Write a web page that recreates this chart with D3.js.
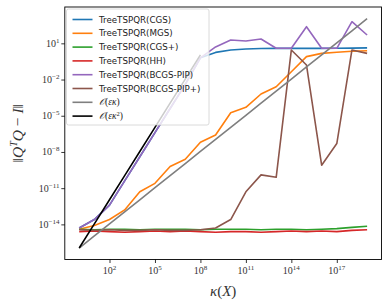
<!DOCTYPE html>
<html>
<head>
<meta charset="utf-8">
<script src="https://cdn.jsdelivr.net/npm/d3@7"></script>
<style>
  html, body { margin: 0; padding: 0; background: #fff; }
  svg { display: block; }
</style>
</head>
<body>
<svg id="chart" width="390" height="306"></svg>
<script>
// condition numbers, kappa = 10^e
const kappaExp = [0, 1, 2, 3, 4, 5, 6, 7, 8, 9, 10, 11, 12, 13, 14, 15, 16, 17, 18, 19];

// log10 of ||Q^T Q - I||
const cgs = [-14.3, -13.6, -12.4, -10.4, -8.4, -6.4, -4.4, -2.4, -0.2, 0.25, 0.45, 0.53, 0.57, 0.58, 0.58, 0.58, 0.58, 0.59, 0.6, 0.62];
const mgs = [-14.4, -14.1, -13.6, -12.8, -11.3, -10.6, -9.2, -8.6, -7.2, -6.6, -4.75, -4.3, -3.2, -2.6, -1.35, -0.1, 0.17, 0.26, 0.34, 0.39];
const cgsPlus = [-14.4, -14.45, -14.4, -14.4, -14.45, -14.4, -14.4, -14.4, -14.45, -14.4, -14.4, -14.4, -14.45, -14.4, -14.4, -14.45, -14.4, -14.35, -14.25, -14.15];
const hh = [-14.6, -14.55, -14.6, -14.65, -14.6, -14.55, -14.6, -14.55, -14.6, -14.65, -14.6, -14.6, -14.65, -14.6, -14.55, -14.6, -14.55, -14.6, -14.5, -14.45];
const bcgsPip = [-14.3, -13.6, -12.4, -10.4, -8.4, -6.4, -4.4, -2.4, -0.2, 0.7, 1.28, 1.19, 1.36, 0.59, 0.59, 2.38, 0.59, 0.59, 2.79, 1.69];
const bcgsPipPlus = [-14.45, -14.5, -14.45, -14.5, -14.5, -14.45, -14.5, -14.5, -14.45, -14.3, -13.6, -11.3, -9.9, -10.1, 0.45, -0.8, -9.1, -7.3, 0.45, 0.17];
const orderEpsK = [-15.96, -14.96, -13.96, -12.96, -11.96, -10.96, -9.96, -8.96, -7.96, -6.96, -5.96, -4.96, -3.96, -2.96, -1.96, -0.96, 0.04, 1.04, 2.04, 3.04];
const orderEpsK2 = [-15.96, -13.96, -11.96, -9.96, -7.96, -5.96, -3.96, -1.96, 0.04];

const xTickExp = [2, 5, 8, 11, 14, 17];
const yTickExp = [1, -2, -5, -8, -11, -14];

const seriesList = [
  { name: 'TreeTSPQR(CGS)', vals: cgs, color: '#1f77b4' },
  { name: 'TreeTSPQR(MGS)', vals: mgs, color: '#ff7f0e' },
  { name: 'TreeTSPQR(CGS+)', vals: cgsPlus, color: '#2ca02c' },
  { name: 'TreeTSPQR(HH)', vals: hh, color: '#d62728' },
  { name: 'TreeTSPQR(BCGS-PIP)', vals: bcgsPip, color: '#9467bd' },
  { name: 'TreeTSPQR(BCGS-PIP+)', vals: bcgsPipPlus, color: '#8c564b' },
  { name: 'epsK', vals: orderEpsK, color: '#7f7f7f' },
  { name: 'epsK2', vals: orderEpsK2, color: '#000000' }
];

const svg = d3.select('#chart');
const plotL = 64.8, plotR = 381.5, plotT = 7, plotB = 259.5;

const x = d3.scaleLog().domain([Math.pow(10, -0.95), Math.pow(10, 19.95)]).range([plotL, plotR]);
const y = d3.scaleLog().domain([Math.pow(10, -16.91), Math.pow(10, 4.01)]).range([plotB, plotT]);

svg.append('clipPath').attr('id', 'clip')
  .append('rect').attr('x', plotL).attr('y', plotT).attr('width', plotR - plotL).attr('height', plotB - plotT);

const line = d3.line()
  .x((d, i) => x(Math.pow(10, kappaExp[i])))
  .y(d => y(Math.pow(10, d)));

const plot = svg.append('g').attr('clip-path', 'url(#clip)');
seriesList.forEach(s => {
  plot.append('path')
    .attr('d', line(s.vals))
    .attr('fill', 'none')
    .attr('stroke', s.color)
    .attr('stroke-width', 1.6)
    .attr('stroke-linejoin', 'round');
});

// axes
const xAxis = d3.axisBottom(x).tickValues(xTickExp.map(e => Math.pow(10, e))).tickSize(3.5).tickFormat('');
const yAxis = d3.axisLeft(y).tickValues(yTickExp.map(e => Math.pow(10, e))).tickSize(3.5).tickFormat('');

const gx = svg.append('g').attr('transform', `translate(0,${plotB})`).call(xAxis);
const gy = svg.append('g').attr('transform', `translate(${plotL},0)`).call(yAxis);
gx.select('.domain').remove();
gy.select('.domain').remove();
svg.selectAll('.tick line').attr('stroke', '#000').attr('stroke-width', 0.8);

const tickFont = '"Liberation Serif", "DejaVu Serif", serif';

xTickExp.forEach(e => {
  const t = svg.append('text')
    .attr('x', x(Math.pow(10, e)))
    .attr('y', 274)
    .attr('text-anchor', 'middle')
    .attr('font-family', tickFont)
    .attr('font-size', 10)
    .attr('fill', '#333');
  t.append('tspan').text('10');
  t.append('tspan').attr('dy', -4).attr('font-size', 7).text(e);
});

yTickExp.forEach(e => {
  const t = svg.append('text')
    .attr('x', 59.5)
    .attr('y', y(Math.pow(10, e)) + 3.5)
    .attr('text-anchor', 'end')
    .attr('font-family', tickFont)
    .attr('font-size', 10)
    .attr('fill', '#333');
  t.append('tspan').text('10');
  t.append('tspan').attr('dy', -4).attr('font-size', 7).text(e < 0 ? '\u2212' + (-e) : e);
});

// frame
svg.append('rect')
  .attr('x', plotL).attr('y', plotT)
  .attr('width', plotR - plotL).attr('height', plotB - plotT)
  .attr('fill', 'none').attr('stroke', '#000').attr('stroke-width', 0.9);

// axis labels
const xl = svg.append('text')
  .attr('x', (plotL + plotR) / 2).attr('y', 296)
  .attr('text-anchor', 'middle')
  .attr('font-family', tickFont)
  .attr('font-size', 15)
  .attr('fill', '#333');
xl.append('tspan').attr('font-style', 'italic').text('\u03ba');
xl.append('tspan').text('(');
xl.append('tspan').attr('font-style', 'italic').text('X');
xl.append('tspan').text(')');

const yl = svg.append('text')
  .attr('transform', `translate(23,${(plotT + plotB) / 2}) rotate(-90)`)
  .attr('text-anchor', 'middle')
  .attr('font-family', tickFont)
  .attr('font-size', 15.5)
  .attr('fill', '#333');
yl.append('tspan').text('\u2016');
yl.append('tspan').attr('font-style', 'italic').text('Q');
yl.append('tspan').attr('font-style', 'italic').attr('font-size', 10).attr('dy', -6).text('T');
yl.append('tspan').attr('font-style', 'italic').attr('dy', 6).text('Q');
yl.append('tspan').text(' \u2212 ');
yl.append('tspan').attr('font-style', 'italic').text('I');
yl.append('tspan').text('\u2016');

// legend
const legend = svg.append('g');
legend.append('rect')
  .attr('x', 66.5).attr('y', 9)
  .attr('width', 142.5).attr('height', 116)
  .attr('rx', 2)
  .attr('fill', '#fff').attr('fill-opacity', 0.8)
  .attr('stroke', '#d0d0d0').attr('stroke-width', 0.8);

seriesList.forEach((s, i) => {
  const ly = 19.5 + i * 13.8;
  legend.append('line')
    .attr('x1', 72.5).attr('x2', 92.5)
    .attr('y1', ly).attr('y2', ly)
    .attr('stroke', s.color).attr('stroke-width', 1.6);
  const t = legend.append('text')
    .attr('x', 99).attr('y', ly + 3)
    .attr('font-size', 8.7)
    .attr('fill', '#222');
  if (s.name === 'epsK' || s.name === 'epsK2') {
    t.attr('font-family', tickFont).attr('font-size', 9.5);
    t.append('tspan').attr('font-style', 'italic').text('\ud835\udcaa');
    t.append('tspan').text('(');
    t.append('tspan').attr('font-style', 'italic').text('\u03b5\u03ba');
    if (s.name === 'epsK2') {
      t.append('tspan').attr('font-size', 6.5).attr('dy', -3.5).text('2');
      t.append('tspan').attr('dy', 3.5).text(')');
    } else {
      t.append('tspan').text(')');
    }
  } else {
    t.attr('font-family', '"DejaVu Sans", sans-serif').text(s.name);
  }
});
</script>
</body>
</html>
